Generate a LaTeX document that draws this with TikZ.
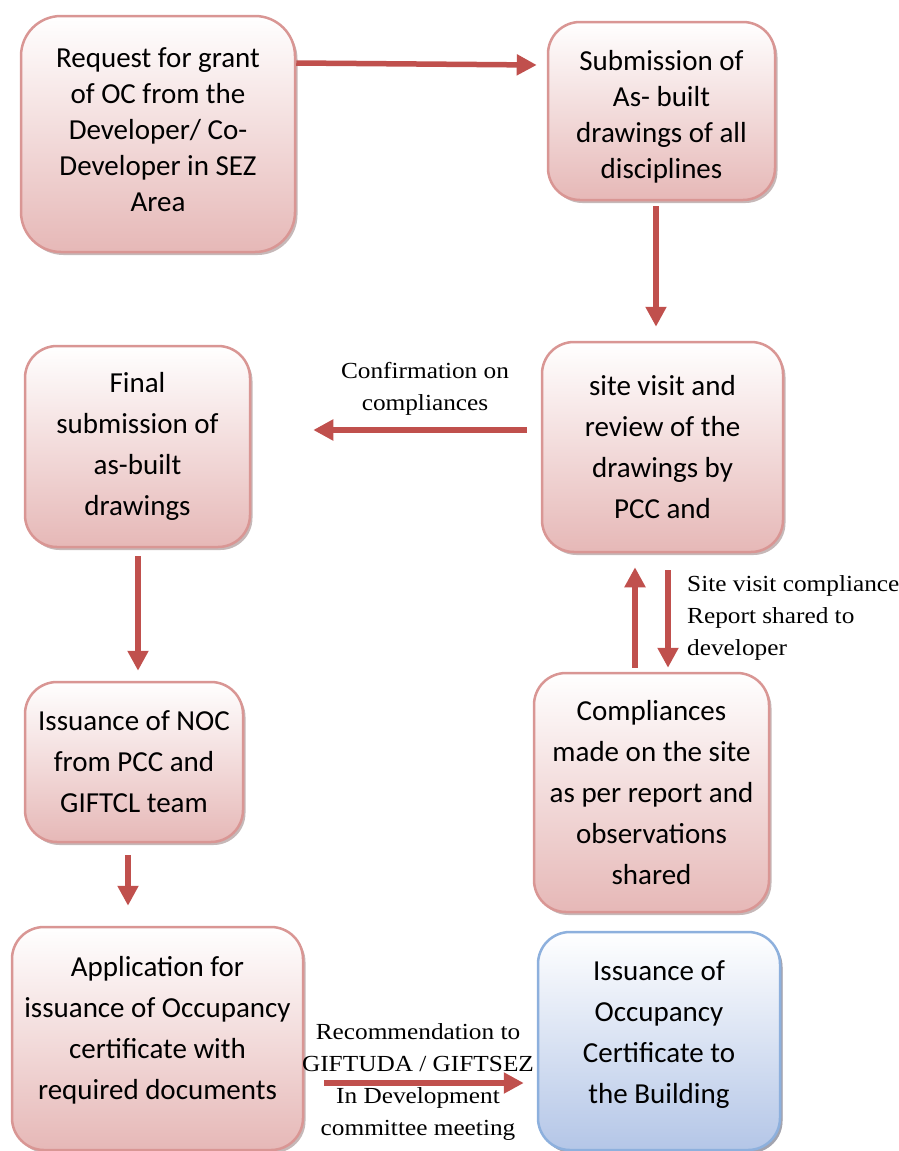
\documentclass[tikz,border=0pt]{standalone}
\usepackage{fontspec}
\newfontfamily\boxfont{Carlito}
\newfontfamily\labfont[FakeStretch=1.1]{Liberation Serif}
\usetikzlibrary{arrows.meta,shadows,calc}
\definecolor{arrowred}{HTML}{C0504D}
\definecolor{pinkborder}{HTML}{D99694}
\definecolor{pinkbot}{HTML}{E6B8B7}
\definecolor{blueborder}{HTML}{8DB0DD}
\definecolor{bluebot}{HTML}{B4C6E7}
\definecolor{shadowcol}{HTML}{A08888}
\definecolor{bshadowcol}{HTML}{8A96AA}
\tikzset{
  pbox/.style={draw=pinkborder, line width=2.5pt, rounded corners=32pt,
    top color=white, bottom color=pinkbot, align=center, text=black,
    inner sep=0pt, font=\boxfont\fontsize{29}{41}\selectfont,
    drop shadow={shadow xshift=2.5pt, shadow yshift=-3pt, fill=shadowcol, opacity=0.6}},
  bbox/.style={pbox, draw=blueborder, bottom color=bluebot,
    drop shadow={shadow xshift=2.5pt, shadow yshift=-3pt, fill=bshadowcol, opacity=0.6}},
  lab/.style={font=\labfont\fontsize{23}{32}\selectfont, inner sep=0pt, text=black},
  arr/.style={draw=arrowred, line width=5.5pt, -{Triangle[length=20pt,width=20pt]}}
}
\begin{document}
\begin{tikzpicture}[x=1pt,y=-1pt]
\path[use as bounding box, clip] (0,0) rectangle (899,1151);
% boxes
\node[pbox, rounded corners=40pt, minimum width=274pt, minimum height=236pt,
  font=\boxfont\fontsize{29}{36}\selectfont, text depth=8pt] (b1) at (158,134)
  {Request for grant\\of OC from the\\Developer/ Co-\\Developer in SEZ\\Area};
\node[pbox, minimum width=227pt, minimum height=178pt,
  font=\boxfont\fontsize{29}{36}\selectfont, text height=139pt] (b2) at (661.5,111)
  {Submission of\\As- built\\drawings of all\\disciplines};
\node[pbox, minimum width=241pt, minimum height=210pt] (b3) at (662.5,447)
  {site visit and\\review of the\\drawings by\\PCC and};
\node[pbox, minimum width=225pt, minimum height=201pt] (b4) at (137.5,446.5)
  {Final\\submission of\\as-built\\drawings};
\node[pbox, minimum width=218pt, minimum height=160pt] (b5) at (134,762)
  {Issuance of NOC\\from PCC and\\GIFTCL team};
\node[pbox, minimum width=235pt, minimum height=239pt] (b6) at (651.5,792.5)
  {Compliances\\made on the site\\as per report and\\observations\\shared};
\node[pbox, minimum width=291pt, minimum height=223pt, text depth=21pt] (b7) at (157.5,1038.5)
  {Application for\\issuance of Occupancy\\certificate with\\required documents};
\node[bbox, minimum width=242pt, minimum height=218pt, text depth=17pt] (b8) at (659,1041)
  {Issuance of\\Occupancy\\Certificate to\\the Building};
% labels
\node[lab, align=center] (lconf) at (425,389) {Confirmation on\\compliances};
\node[lab, align=left, anchor=west] (lsite) at (687,618)
  {Site visit compliance\\Report shared to\\developer};
\node[lab, align=center] (lrec) at (418,1082)
  {Recommendation to\\GIFTUDA / GIFTSEZ\\In Development\\committee meeting};
% arrows
\draw[arr] (b1.east |- 0,63) -- ($(b2.west |- 0,65)+(-10,0)$);
\draw[arr] ($(b2.south)+(-5.5,5)$) -- ($(b3.north)+(-6.5,-14)$);
\draw[arr] ($(b3.west |- 0,430)+(-14,0)$) -- ($(b4.east |- 0,430)+(62,0)$);
\draw[arr] ($(b4.south)+(0.5,8)$) -- ($(b5.north)+(4,-10)$);
\draw[arr] ($(b5.south)+(-6,12)$) -- ($(b7.north)+(-29.5,-20)$);
\draw[arr] ($(b6.north)+(-16.5,-4)$) -- ($(b3.south)+(-27.5,14)$);
\draw[arr] ($(b3.south)+(5.5,17)$) -- ($(b6.north)+(16.5,-4)$);
\draw[arr] ($(b7.east |- 0,1083)+(20,0)$) -- ($(b8.west |- 0,1083)+(-13,0)$);
\end{tikzpicture}
\end{document}
